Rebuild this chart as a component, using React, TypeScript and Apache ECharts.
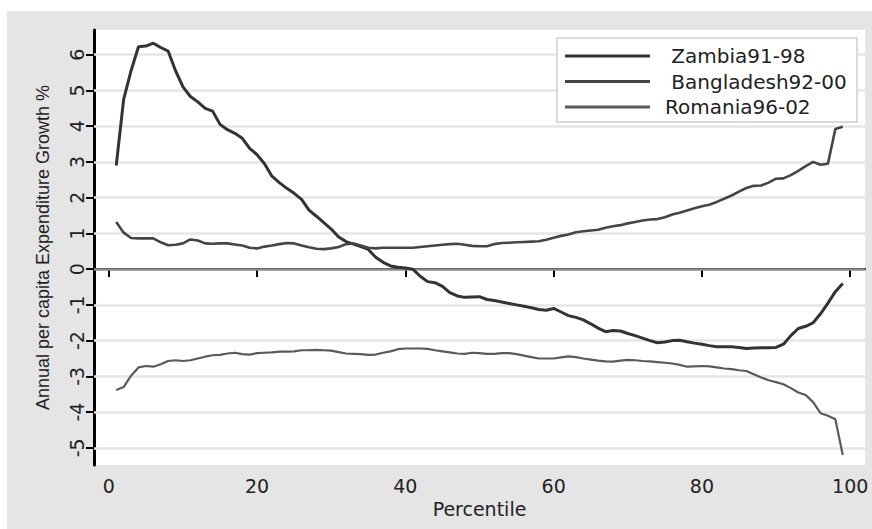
import React, { useEffect, useRef } from "react";
import * as echarts from "echarts";

const percentiles: number[] = Array.from({ length: 99 }, (_, i) => i + 1);

const zambia: number[] = [
  2.9, 4.75, 5.55, 6.22, 6.24, 6.32, 6.2, 6.1, 5.55, 5.1,
  4.83, 4.68, 4.5, 4.42, 4.05, 3.9, 3.8, 3.66, 3.38, 3.2,
  2.95, 2.6, 2.42, 2.26, 2.12, 1.95, 1.65, 1.48, 1.3, 1.12,
  0.9, 0.77, 0.7, 0.63, 0.55, 0.33, 0.19, 0.09, 0.05, 0.03,
  0.0, -0.2, -0.35, -0.38, -0.48, -0.66, -0.75, -0.79, -0.78, -0.77,
  -0.85, -0.88, -0.92, -0.96, -1.0, -1.04, -1.08, -1.13, -1.15, -1.1,
  -1.2, -1.3, -1.35, -1.42, -1.53, -1.65, -1.75, -1.72, -1.73, -1.8,
  -1.86, -1.93, -2.0, -2.06, -2.04, -2.0, -1.99, -2.03, -2.07, -2.1,
  -2.14, -2.17, -2.17, -2.17, -2.19, -2.22, -2.21, -2.2, -2.2, -2.19,
  -2.1, -1.86, -1.66, -1.6, -1.5, -1.25, -0.95, -0.63, -0.4,
];

const bangladesh: number[] = [
  1.32, 1.02, 0.87, 0.86, 0.86, 0.86, 0.75, 0.67, 0.68, 0.72,
  0.83, 0.8, 0.72, 0.71, 0.72, 0.72, 0.69, 0.66, 0.6, 0.58,
  0.63, 0.66, 0.7, 0.73, 0.72, 0.66, 0.61, 0.57, 0.56, 0.58,
  0.62, 0.7, 0.72, 0.66, 0.6, 0.58, 0.6, 0.6, 0.6, 0.6,
  0.6, 0.62, 0.64, 0.66, 0.68, 0.7, 0.71, 0.68, 0.65, 0.64,
  0.64, 0.7, 0.73, 0.74, 0.75, 0.76, 0.77, 0.78, 0.82, 0.88,
  0.93, 0.97, 1.03, 1.06, 1.08, 1.1, 1.16, 1.2, 1.23, 1.28,
  1.32, 1.36, 1.39, 1.4, 1.45, 1.53, 1.58, 1.64, 1.7, 1.76,
  1.8, 1.88, 1.97, 2.06, 2.17, 2.27, 2.33, 2.34, 2.42, 2.53,
  2.54, 2.63, 2.75, 2.88, 3.0, 2.92, 2.95, 3.92, 3.98,
];

const romania: number[] = [
  -3.38, -3.3, -2.98, -2.75, -2.71, -2.73, -2.66, -2.57, -2.55, -2.57,
  -2.55, -2.5, -2.45, -2.41, -2.4, -2.36, -2.34, -2.38, -2.39, -2.35,
  -2.34, -2.33, -2.31, -2.31, -2.3, -2.27, -2.27, -2.26, -2.27, -2.28,
  -2.32, -2.36, -2.37, -2.38, -2.4, -2.39, -2.34, -2.3, -2.24, -2.22,
  -2.22, -2.22, -2.23, -2.27, -2.3, -2.33, -2.36, -2.37, -2.34, -2.35,
  -2.37, -2.37, -2.35, -2.35, -2.38, -2.42, -2.46, -2.5, -2.5, -2.5,
  -2.47, -2.44, -2.46, -2.5, -2.53, -2.56, -2.58, -2.59, -2.56, -2.54,
  -2.55, -2.57, -2.58, -2.6, -2.62, -2.64, -2.68, -2.73, -2.72, -2.71,
  -2.72, -2.75, -2.78, -2.8, -2.83, -2.85, -2.94, -3.03, -3.11, -3.16,
  -3.22, -3.33, -3.45, -3.52, -3.72, -4.03, -4.1, -4.2, -5.2,
];

const seriesNames: string[] = [" Zambia91-98", " Bangladesh92-00", "Romania96-02"];
const yTicks: number[] = [-5, -4, -3, -2, -1, 0, 1, 2, 3, 4, 5, 6];
const xTicks: number[] = [0, 20, 40, 60, 80, 100];
const gridValues: number[] = [-5, -4, -3, -2, -1, 1, 2, 3, 4, 5, 6];

export default function App() {
  const ref = useRef<HTMLDivElement>(null);

  useEffect(() => {
    if (!ref.current) return;
    const chart = echarts.init(ref.current, undefined, { renderer: "svg" });
    const pairs = (vals: number[]) => percentiles.map((p, i) => [p, vals[i]]);
    const colors = ["#333333", "#454545", "#5a5a5a"];
    const widths = [3, 2.6, 2.2];
    const datasets = [zambia, bangladesh, romania];

    const option: any = {
      animation: false,
      backgroundColor: "#e5e5e5",
      grid: {
        left: 87,
        top: 19,
        right: 7,
        bottom: 64,
        show: true,
        backgroundColor: "#ffffff",
        borderWidth: 0,
      },
      xAxis: {
        type: "value",
        min: -2,
        max: 102,
        name: "Percentile",
        nameLocation: "middle",
        nameGap: 24,
        nameTextStyle: { fontFamily: "DejaVu Sans", fontSize: 19, color: "#222" },
        axisLine: { show: true, lineStyle: { color: "#000", width: 2 } },
        axisTick: { show: true, length: 8, lineStyle: { color: "#000", width: 2 }, customValues: xTicks },
        axisLabel: { customValues: xTicks, margin: 11, fontFamily: "DejaVu Sans", fontSize: 19, color: "#222" },
        splitLine: { show: false },
      },
      yAxis: {
        type: "value",
        min: -5.48,
        max: 6.69,
        name: "Annual per capita Expenditure Growth %",
        nameLocation: "middle",
        nameRotate: 90,
        nameGap: 42,
        nameTextStyle: { fontFamily: "Liberation Sans", fontSize: 18, color: "#222" },
        axisLine: { show: true, onZero: false, lineStyle: { color: "#000", width: 3 } },
        axisTick: { show: true, length: 8, lineStyle: { color: "#000", width: 2 }, customValues: yTicks },
        axisLabel: { customValues: yTicks, rotate: 90, margin: 8, fontFamily: "DejaVu Sans", fontSize: 19, color: "#222" },
        splitLine: { show: false },
      },
      legend: {
        orient: "vertical",
        left: 558,
        top: 35,
        padding: 0,
        itemWidth: 85,
        itemHeight: 3,
        itemGap: 5.5,
        icon: "rect",
        data: seriesNames.map((n, i) => ({ name: n, icon: "rect", itemStyle: { color: colors[i] } })),
        textStyle: { fontFamily: "DejaVu Sans", fontSize: 20, lineHeight: 20, color: "#222", padding: [0, 0, 0, 10] },
        z: 10,
      },
      graphic: [
        {
          type: "rect",
          z: 8,
          shape: { x: 550, y: 27, width: 300, height: 84 },
          style: { fill: "#ffffff", stroke: "#dadada", lineWidth: 2 },
        },
      ],
      series: datasets.map((vals, i) => ({
        name: seriesNames[i],
        type: "line",
        data: pairs(vals),
        symbol: "none",
        showSymbol: false,
        lineStyle: { color: colors[i], width: widths[i] },
        itemStyle: { color: colors[i] },
        z: 3,
        markLine:
          i === 0
            ? {
                silent: true,
                symbol: "none",
                z: 1,
                label: { show: false },
                data: [
                  ...gridValues.map((v) => ({ yAxis: v, lineStyle: { color: "#e6e6e6", width: 2.5, type: "solid" } })),
                  { yAxis: 0, lineStyle: { color: "#8c8c8c", width: 2.5, type: "solid" } },
                ],
              }
            : undefined,
      })),
    };
    chart.setOption(option);
    return () => chart.dispose();
  }, []);

  return (
    <div style={{ position: "fixed", left: 0, top: 0, width: 872, height: 529, background: "#ffffff" }}>
      <div ref={ref} style={{ position: "absolute", left: 7, top: 11, width: 865, height: 518 }} />
    </div>
  );
}
